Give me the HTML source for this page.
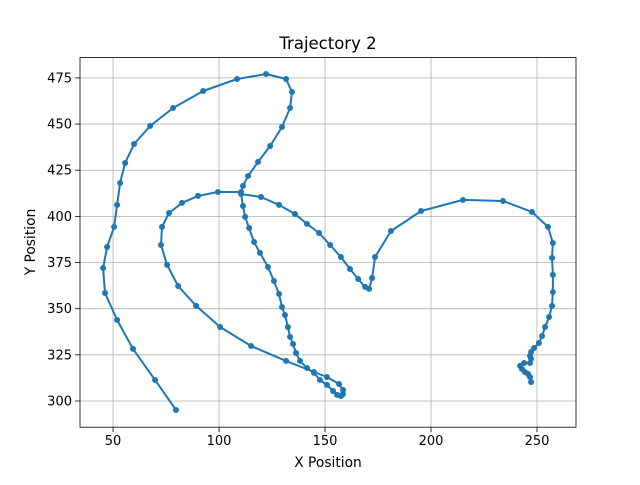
<!DOCTYPE html>
<html><head><meta charset="utf-8"><style>
body{margin:0;background:#fff}
svg text{font-family:"DejaVu Sans","Liberation Sans",sans-serif;fill:#000}
</style></head><body>
<svg id="chart" width="640" height="480" viewBox="0 0 640 480">
<rect width="640" height="480" fill="#fff"/>
<g id="grid"></g>
<g id="series"></g>
<rect x="80" y="57.6" width="496" height="369.6" fill="none" stroke="#000" stroke-width="0.8"/>
<g id="ticks"></g>
<text x="328" y="49" font-size="16.5" text-anchor="middle">Trajectory 2</text>
<text x="328" y="467" font-size="13.8" text-anchor="middle">X Position</text>
<text x="35" y="242" font-size="13.8" text-anchor="middle" transform="rotate(-90 35 242)">Y Position</text>
</svg>
<script>
const xValues=[79.7,69.8,59.4,51.9,46.2,45.3,47.2,50.5,51.9,53.3,55.7,59.9,67.5,78.3,92.5,108.5,122.2,131.6,134.4,133.5,129.7,124.1,118.4,113.7,111.3,110.4,99.5,90.1,82.5,76.4,73.1,72.6,75.5,80.7,89.2,100.5,115.1,131.6,144.8,150.9,156.6,158.5,158.5,157.5,155.7,153.8,150.9,147.6,144.8,141.5,138.2,136.3,134.9,133.5,132.5,131.1,129.7,128.3,125.9,123.1,119.3,116.5,114.2,112.3,111.3,110.4,119.8,128.3,135.8,141.5,147.2,152.4,157.5,161.8,165.6,168.9,170.8,172.2,173.6,181.1,195.3,215.1,234.0,247.6,255.2,257.5,257.1,257.5,257.5,257.1,255.7,253.8,252.4,250.9,248.6,247.2,246.7,247.2,246.7,243.9,242.0,242.9,244.3,245.8,246.7,247.2];
const yValues=[295.1,311.4,328.2,343.9,358.5,372.0,383.4,394.3,406.2,418.1,428.9,439.2,449.0,458.7,467.9,474.4,477.1,474.4,467.4,458.7,448.4,438.1,429.5,421.9,416.5,413.2,413.2,411.1,407.3,401.8,394.3,384.5,373.7,362.3,351.5,340.1,329.8,321.7,315.7,313.0,309.2,306.0,303.8,302.7,303.3,305.4,308.7,311.4,315.2,317.9,321.7,326.0,330.9,334.7,340.1,346.6,350.9,358.0,365.0,372.6,380.2,386.1,393.7,399.7,405.6,412.1,410.5,406.2,401.3,395.9,391.0,384.5,378.0,371.5,366.1,361.8,360.7,366.6,378.0,392.1,402.9,408.9,408.3,402.4,394.3,385.6,377.5,368.3,359.0,351.5,345.5,340.1,335.2,331.4,328.7,326.5,324.4,322.8,320.6,320.6,319.0,317.3,315.7,314.6,313.0,310.3];
const xTicks=[50,100,150,200,250];
const yTicks=[300,325,350,375,400,425,450,475];
const X0=80,X1=576,Y0=427.2,Y1=57.6,XMIN=34.4,XMAX=268.4,YMIN=285.8,YMAX=486;
const sx=v=>X0+(v-XMIN)/(XMAX-XMIN)*(X1-X0);
const sy=v=>Y0-(v-YMIN)/(YMAX-YMIN)*(Y0-Y1);
const NS="http://www.w3.org/2000/svg";
const grid=document.getElementById('grid'),ticks=document.getElementById('ticks'),ser=document.getElementById('series');
function mk(t,a,p){const e=document.createElementNS(NS,t);for(const k in a)e.setAttribute(k,a[k]);p.appendChild(e);return e;}
xTicks.forEach(v=>{const x=sx(v);
 const g=mk('line',{x1:x,x2:x,y1:Y1,y2:Y0,stroke:'#b0b0b0','stroke-width':0.8},grid);
 
 
 const t=mk('line',{x1:x,x2:x,y1:Y0,y2:Y0+4.9,stroke:'#000','stroke-width':0.8},ticks);
 
 
 const l=mk('text',{x:x,y:Y0+18,'font-size':13,'text-anchor':'middle'},ticks);l.textContent=v;
 
 
});
yTicks.forEach(v=>{const y=sy(v);
 const g=mk('line',{x1:X0,x2:X1,y1:y,y2:y,stroke:'#b0b0b0','stroke-width':0.8},grid);
 
 
 const t=mk('line',{x1:X0-4.9,x2:X0,y1:y,y2:y,stroke:'#000','stroke-width':0.8},ticks);
 
 
 const l=mk('text',{x:X0-8,y:y+4.5,'font-size':13,'text-anchor':'end'},ticks);l.textContent=v;
 
 
});
const pts=xValues.map((v,i)=>sx(v).toFixed(1)+','+sy(yValues[i]).toFixed(1)).join(' ');
const pl=mk('polyline',{points:pts,fill:'none',stroke:'#1f77b4','stroke-width':2,'stroke-linejoin':'round'},ser);


xValues.forEach((v,i)=>{
 const c=mk('circle',{cx:sx(v),cy:sy(yValues[i]),r:3,fill:'#1f77b4'},ser);
 
 
});
</script>
</body></html>
